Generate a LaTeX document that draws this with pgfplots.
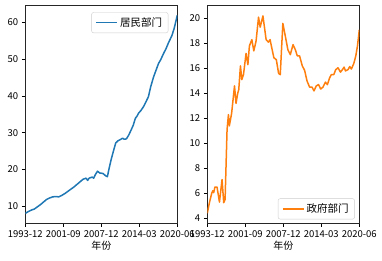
\documentclass[border=0pt]{standalone}
\usepackage{fontspec}
\setmainfont{Noto Sans CJK SC}
\usepackage{pgfplots}
\pgfplotsset{compat=1.18}
\definecolor{mplblue}{HTML}{1F77B4}
\definecolor{mplorange}{HTML}{FF7F0E}
\pgfplotsset{
  mystyle/.style={
    scale only axis,
    width=152pt, height=218pt,
    anchor=south west,
    xmin=0, xmax=100,
    xtick={0,25,50,75,100},
    xticklabels={1993-12,2001-09,2007-12,2014-03,2020-06},
    xtick pos=bottom, ytick pos=left,
    tick align=outside,
    major tick length=3.5pt,
    every tick/.style={black, line width=0.8pt},
    axis line style={line width=0.8pt, black!85},
    tick label style={font=\fontsize{9.5}{11}\selectfont},
    /pgf/number format/assume math mode=true,
    xlabel={年份},
    xlabel style={font=\fontsize{10}{12}\selectfont, yshift=3pt},
    legend style={font=\fontsize{10.5}{12}\selectfont, draw=black!20, rounded corners=2pt, fill=white, inner xsep=4pt, inner ysep=3pt},
    legend cell align=left,
  }
}
\begin{document}
\begin{tikzpicture}
\path[use as bounding box] (0,0) rectangle (382pt,260pt);
\begin{axis}[mystyle, at={(25.3pt,36.7pt)},
  ymin=5.3, ymax=64.7, ytick={10,20,30,40,50,60},
  legend style={at={(1,1)}, anchor=north east, xshift=-9pt, yshift=-7pt},
  legend image code/.code={\draw[mplblue, line width=1.5pt] (0pt,0pt) -- (21pt,0pt);}]
\addplot[mplblue, line width=1.5pt, line join=round] coordinates {
(0,8.0)(2,8.5)(4,8.9)(6,9.2)(8,9.8)(10,10.4)(12,11.1)(14,11.8)(16,12.2)(18,12.5)
(20,12.6)(22,12.5)(24,12.9)(26,13.4)(28,14.0)(30,14.6)(32,15.2)(34,15.9)(36,16.6)
(38,17.3)(40,17.6)(41,17.0)(42,17.6)(44,17.9)(45,17.6)(46,18.5)(47.5,19.5)(49,19.0)
(51,18.9)(53,18.2)(54,18.0)(55,20.0)(56.5,22.7)(58,25.0)(59.5,27.2)(61,27.8)(62.5,28.1)
(64,28.5)(65,28.2)(66.5,28.3)(68,29.3)(69.7,30.8)(71,32.0)(72.4,33.9)(73.5,34.5)
(74.5,35.3)(76,36.0)(77.8,37.1)(79.5,38.5)(81,39.8)(82.5,42.5)(84.4,45.2)(86,47.0)
(87.7,48.9)(89,49.8)(91,51.6)(92.5,52.8)(94,54.3)(96.5,56.5)(98,58.5)(100,62.0)
};
\addlegendentry{居民部门}
\end{axis}
\begin{axis}[mystyle, at={(207.3pt,36.7pt)},
  ymin=3.6, ymax=21.05, ytick={4,6,8,10,12,14,16,18,20},
  legend style={at={(1,0)}, anchor=south east, xshift=-4.5pt, yshift=4pt},
  legend image code/.code={\draw[mplorange, line width=1.5pt] (0pt,0pt) -- (21pt,0pt);}]
\addplot[mplorange, line width=1.5pt, line join=round] coordinates {
(0,4.4)(1.3,5.2)(2.9,6.0)(3.6,6.2)(4.2,6.05)(5,6.5)(6.4,6.5)(8,5.3)(9.7,7.1)(10.8,5.25)
(11.7,5.5)(13,11.1)(13.9,12.3)(14.5,11.4)(16,12.4)(17.9,14.6)(18.9,13.2)(20,14.0)
(20.7,14.3)(21.8,16.2)(22.7,15.1)(23.8,15.5)(25.5,17.2)(26.7,16.3)(27.7,17.8)(29.3,18.3)
(30.6,17.4)(32.1,18.2)(33.7,20.1)(34.8,19.3)(36.6,20.2)(38.7,18.3)(40.2,18.1)(41.3,18.3)
(41.8,18.0)(43.8,16.85)(45.4,16.7)(46.9,15.6)(48,15.5)(49.7,19.6)(51.3,18.6)(53,17.5)
(54.6,17.1)(56.4,17.9)(57.9,17.5)(59.2,17.0)(60.7,17.0)(62.5,16.2)(64,15.85)(65.6,15.0)
(67.3,14.5)(68.9,14.5)(70.2,14.2)(71.7,14.6)(73.2,14.7)(74.6,14.35)(76.1,14.5)(77.7,14.9)
(79,14.7)(80.5,15.25)(81.6,15.5)(83.2,15.5)(84.5,15.9)(86,16.05)(87.6,15.7)(88.9,15.9)
(90,16.1)(90.9,15.8)(92.6,15.9)(93.7,16.15)(94.8,15.95)(96.4,16.4)(97.7,17.0)(98.8,17.8)
(100,19.1)
};
\addlegendentry{政府部门}
\end{axis}
\end{tikzpicture}
\end{document}
